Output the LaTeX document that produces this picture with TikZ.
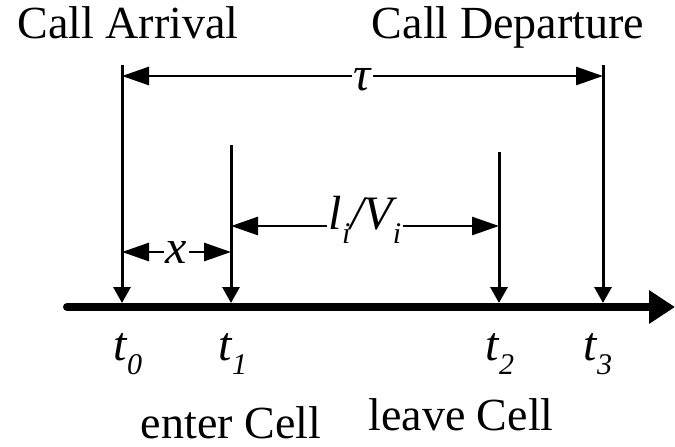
\documentclass[tikz,border=0pt]{standalone}
\usepackage{fontspec}
\setmainfont{Liberation Serif}
\usetikzlibrary{arrows.meta}
\newcommand{\lowsub}[1]{\raisebox{-0.28em}{\fontsize{15}{15}\selectfont\itshape #1}}

\begin{document}
\begin{tikzpicture}[x=0.5pt,y=-0.5pt,
  tick/.style={line width=1.5pt,-{Triangle[length=8pt,width=8.5pt]}},
  span/.style={line width=1.4pt,{Triangle[length=13.5pt,width=9pt]}-{Triangle[length=13.5pt,width=9pt]}},
  lab/.style={font=\fontsize{23}{27}\selectfont,inner sep=1pt},
  ilab/.style={font=\fontsize{24}{28}\selectfont\itshape,fill=white,inner sep=1pt}]
\useasboundingbox (0,0) rectangle (675,446);
% time axis
\coordinate (axstart) at (67,307);
\coordinate (axend) at (675,307);
\draw[line width=4pt,line cap=round,-{Triangle[length=13pt,width=16pt]}] (axstart) -- (axend);
% event arrows onto the axis
\foreach \n/\x/\top/\lx in {0/122/65/128,1/231/145/233,2/499/152/500,3/603/65/598} {
  \coordinate (top\n) at (\x,\top);
  \coordinate (bot\n) at (\x,303);
  \draw[tick] (top\n) -- (bot\n);
  \node[lab,font=\fontsize{24}{28}\selectfont\itshape] (t\n) at (\lx,354) {t\lowsub{\n}};
}
% intervals
\coordinate (tauL) at (122,76);
\coordinate (tauR) at (603,76);
\draw[span] (tauL) -- (tauR) node[ilab,midway,yshift=-2pt] (tau) {τ};
\coordinate (xL) at (122,252);
\coordinate (xR) at (231,252);
\draw[span] (xL) -- (xR) node[ilab,midway] (xlab) {x};
\coordinate (lL) at (231,226);
\coordinate (lR) at (499,226);
\draw[span] (lL) -- (lR) node[ilab,pos=0.5,yshift=3pt] (llab) {l\lowsub{i}/V\lowsub{i}};

% captions
\node[lab,anchor=base] (arrive) at (128,38) {Call Arrival};
\node[lab,anchor=base] (depart) at (508,38) {Call Departure};
\node[lab,anchor=base] (enter) at (231,438) {enter Cell};
\node[lab,anchor=base] (leave) at (461,430) {leave Cell};
\end{tikzpicture}
\end{document}
